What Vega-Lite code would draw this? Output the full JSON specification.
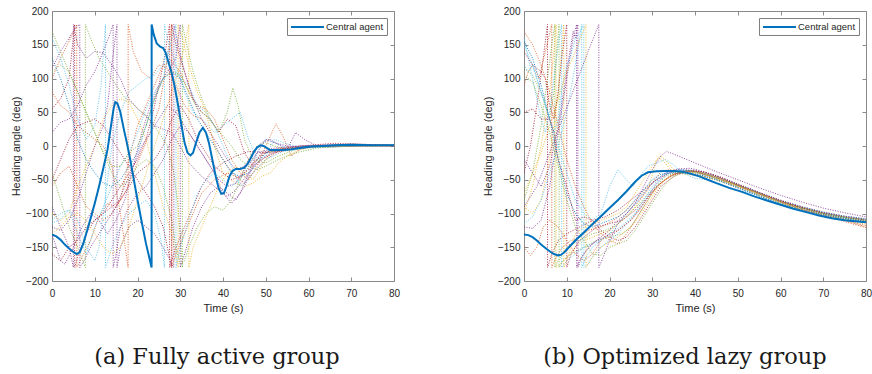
{
"$schema": "https://vega.github.io/schema/vega-lite/v6.json",
"background": "white",
"padding": {"left": 9, "top": 5, "right": 0, "bottom": 0},
"spacing": 80,
"config": {
 "view": {"stroke": "#8a8a8a", "strokeWidth": 1},
 "axis": {"grid": false, "domain": false, "tickColor": "#8a8a8a", "tickSize": -4, "labelFont": "Liberation Sans", "labelFontSize": 10, "labelColor": "#262626", "titleFont": "Liberation Sans", "titleFontSize": 11, "titleFontWeight": "normal", "titleColor": "#262626", "labelOverlap": false},
 "legend": {"orient": "top-right", "offset": 7, "title": null, "symbolType": "M-1,0H5.6", "symbolSize": 100, "symbolStrokeWidth": 2, "labelFontSize": 9.5, "labelFont": "Liberation Sans", "labelColor": "#262626", "strokeColor": "#7f7f7f", "fillColor": "white", "padding": 3, "labelOffset": 24},
 "title": {"orient": "bottom", "font": "DejaVu Serif", "fontSize": 22.5, "fontWeight": "normal", "color": "#1a1a1a", "offset": 33, "anchor": "middle"}
},
"resolve": {"scale": {"color": "independent", "stroke": "independent"}, "legend": {"stroke": "independent"}},
"datasets": {
"centralA": [
{"t":0,"v":-131},{"t":1,"v":-134},{"t":2,"v":-139},{"t":3,"v":-146},{"t":4,"v":-152},{"t":5,"v":-157},{"t":5.8,"v":-160},{"t":6.5,"v":-157},{"t":7.3,"v":-145},{"t":8,"v":-130},{"t":9,"v":-108},{"t":10,"v":-85},{"t":11,"v":-60},{"t":12,"v":-33},{"t":13,"v":-5},{"t":13.8,"v":30},{"t":14.4,"v":55},{"t":14.8,"v":65},{"t":15.3,"v":63},{"t":16,"v":50},{"t":16.8,"v":25},{"t":17.5,"v":5},{"t":18.3,"v":-20},{"t":19,"v":-45},{"t":20,"v":-80},{"t":21,"v":-113},{"t":22,"v":-145},{"t":23.3,"v":-180},{"t":23.31,"v":180},{"t":23.8,"v":165},{"t":24.5,"v":152},{"t":25.3,"v":147},{"t":26,"v":145},{"t":26.6,"v":138},{"t":27.2,"v":125},{"t":28,"v":108},{"t":28.7,"v":88},{"t":29.5,"v":60},{"t":30.3,"v":30},{"t":31,"v":5},{"t":31.7,"v":-10},{"t":32.4,"v":-14},{"t":33,"v":-10},{"t":33.7,"v":5},{"t":34.5,"v":20},{"t":35.3,"v":27},{"t":36,"v":20},{"t":36.7,"v":5},{"t":37.5,"v":-20},{"t":38.3,"v":-45},{"t":39,"v":-63},{"t":39.6,"v":-71},{"t":40.2,"v":-70},{"t":40.8,"v":-60},{"t":41.5,"v":-45},{"t":42.2,"v":-37},{"t":43,"v":-34},{"t":44,"v":-34},{"t":45,"v":-32},{"t":45.8,"v":-26},{"t":46.5,"v":-18},{"t":47.3,"v":-8},{"t":48,"v":-2},{"t":48.8,"v":1},{"t":49.5,"v":0},{"t":50.3,"v":-3},{"t":51,"v":-6},{"t":52.5,"v":-6},{"t":54,"v":-6},{"t":56,"v":-5},{"t":58,"v":-3},{"t":60,"v":-1},{"t":63,"v":0},{"t":66,"v":1},{"t":70,"v":2},{"t":75,"v":1},{"t":80,"v":1}
],
"centralB": [
{"t":0,"v":-131},{"t":1,"v":-132},{"t":2,"v":-135},{"t":3,"v":-140},{"t":4,"v":-146},{"t":5,"v":-151},{"t":6,"v":-156},{"t":7,"v":-160},{"t":8,"v":-162},{"t":8.7,"v":-161},{"t":9.5,"v":-157},{"t":10.5,"v":-150},{"t":12,"v":-140},{"t":14,"v":-128},{"t":16,"v":-116},{"t":18,"v":-104},{"t":20,"v":-92},{"t":22,"v":-80},{"t":24,"v":-67},{"t":26,"v":-53},{"t":27.5,"v":-44},{"t":29,"v":-39},{"t":31,"v":-37.5},{"t":33,"v":-37},{"t":35,"v":-37},{"t":37,"v":-38},{"t":39,"v":-41},{"t":41,"v":-45},{"t":43,"v":-50},{"t":45,"v":-55},{"t":48,"v":-62},{"t":51,"v":-68},{"t":54,"v":-75},{"t":57,"v":-81},{"t":60,"v":-87},{"t":63,"v":-93},{"t":66,"v":-98},{"t":69,"v":-103},{"t":72,"v":-107},{"t":75,"v":-110},{"t":78,"v":-112},{"t":80,"v":-113}
],
"agentsA": [
{"k":"a1","t":0,"v":-90},{"k":"a1","t":2,"v":-120},{"k":"a1","t":4,"v":-150},{"k":"a1","t":5,"v":-180},{"k":"a1","t":5.01,"v":180},{"k":"a1","t":6,"v":150},{"k":"a1","t":8,"v":130},{"k":"a1","t":10,"v":140},{"k":"a1","t":12,"v":138},{"k":"a1","t":14,"v":120},{"k":"a1","t":16,"v":100},{"k":"a1","t":18,"v":70},{"k":"a1","t":20,"v":55},{"k":"a1","t":22,"v":45},{"k":"a1","t":24,"v":30},{"k":"a1","t":26,"v":25},{"k":"a1","t":28,"v":20},{"k":"a1","t":30,"v":0},{"k":"a1","t":32,"v":-25},{"k":"a1","t":35,"v":-45},{"k":"a1","t":38,"v":-60},{"k":"a1","t":41,"v":-75},{"k":"a1","t":43,"v":-65},{"k":"a1","t":46,"v":-40},{"k":"a1","t":50,"v":-15},{"k":"a1","t":54,"v":-5},{"k":"a1","t":58,"v":0},{"k":"a1","t":65,"v":2},{"k":"a1","t":80,"v":1},
{"k":"a2","t":0,"v":55},{"k":"a2","t":2,"v":70},{"k":"a2","t":4,"v":100},{"k":"a2","t":5.3,"v":180},{"k":"a2","t":5.31,"v":-180},{"k":"a2","t":6,"v":-165},{"k":"a2","t":8,"v":-130},{"k":"a2","t":10,"v":-110},{"k":"a2","t":12,"v":-100},{"k":"a2","t":14,"v":-80},{"k":"a2","t":16,"v":-60},{"k":"a2","t":18,"v":-40},{"k":"a2","t":20,"v":-20},{"k":"a2","t":22,"v":10},{"k":"a2","t":24,"v":60},{"k":"a2","t":26,"v":120},{"k":"a2","t":27.5,"v":180},{"k":"a2","t":27.51,"v":-180},{"k":"a2","t":29,"v":-150},{"k":"a2","t":31,"v":-120},{"k":"a2","t":33,"v":-90},{"k":"a2","t":35,"v":-60},{"k":"a2","t":37,"v":-40},{"k":"a2","t":40,"v":-25},{"k":"a2","t":43,"v":-15},{"k":"a2","t":46,"v":-8},{"k":"a2","t":50,"v":-10},{"k":"a2","t":55,"v":-6},{"k":"a2","t":60,"v":-1},{"k":"a2","t":70,"v":3},{"k":"a2","t":80,"v":1},
{"k":"a3","t":0,"v":100},{"k":"a3","t":2,"v":130},{"k":"a3","t":4,"v":155},{"k":"a3","t":5.8,"v":180},{"k":"a3","t":5.81,"v":-180},{"k":"a3","t":7,"v":-165},{"k":"a3","t":9,"v":-140},{"k":"a3","t":11,"v":-105},{"k":"a3","t":13,"v":-85},{"k":"a3","t":15,"v":-90},{"k":"a3","t":17,"v":-70},{"k":"a3","t":19,"v":-40},{"k":"a3","t":21,"v":-10},{"k":"a3","t":23,"v":20},{"k":"a3","t":25,"v":55},{"k":"a3","t":26.5,"v":110},{"k":"a3","t":28,"v":180},{"k":"a3","t":28.01,"v":-180},{"k":"a3","t":29,"v":-160},{"k":"a3","t":31,"v":-130},{"k":"a3","t":33,"v":-100},{"k":"a3","t":35,"v":-70},{"k":"a3","t":38,"v":-50},{"k":"a3","t":41,"v":-40},{"k":"a3","t":44,"v":-48},{"k":"a3","t":46,"v":-32},{"k":"a3","t":49,"v":-12},{"k":"a3","t":52,"v":-5},{"k":"a3","t":56,"v":-2},{"k":"a3","t":62,"v":0},{"k":"a3","t":80,"v":1},
{"k":"a4","t":0,"v":-40},{"k":"a4","t":2,"v":-80},{"k":"a4","t":4,"v":-120},{"k":"a4","t":6,"v":-150},{"k":"a4","t":7.8,"v":-180},{"k":"a4","t":7.81,"v":180},{"k":"a4","t":9,"v":160},{"k":"a4","t":11,"v":130},{"k":"a4","t":13,"v":110},{"k":"a4","t":15,"v":90},{"k":"a4","t":17,"v":72},{"k":"a4","t":19,"v":62},{"k":"a4","t":21,"v":50},{"k":"a4","t":23,"v":38},{"k":"a4","t":25,"v":20},{"k":"a4","t":27,"v":0},{"k":"a4","t":28.5,"v":-40},{"k":"a4","t":29.5,"v":-90},{"k":"a4","t":30.5,"v":-180},{"k":"a4","t":30.51,"v":180},{"k":"a4","t":31.5,"v":150},{"k":"a4","t":33,"v":110},{"k":"a4","t":35,"v":70},{"k":"a4","t":37,"v":40},{"k":"a4","t":39,"v":20},{"k":"a4","t":41,"v":50},{"k":"a4","t":42.3,"v":86},{"k":"a4","t":43.5,"v":60},{"k":"a4","t":45,"v":10},{"k":"a4","t":47,"v":-20},{"k":"a4","t":50,"v":-25},{"k":"a4","t":53,"v":-15},{"k":"a4","t":57,"v":-5},{"k":"a4","t":62,"v":0},{"k":"a4","t":80,"v":2},
{"k":"a5","t":0,"v":160},{"k":"a5","t":2,"v":130},{"k":"a5","t":4,"v":90},{"k":"a5","t":6,"v":40},{"k":"a5","t":8,"v":10},{"k":"a5","t":10,"v":30},{"k":"a5","t":11.5,"v":90},{"k":"a5","t":12.5,"v":180},{"k":"a5","t":12.51,"v":-180},{"k":"a5","t":14,"v":-150},{"k":"a5","t":16,"v":-120},{"k":"a5","t":18,"v":-100},{"k":"a5","t":20,"v":-90},{"k":"a5","t":22,"v":-80},{"k":"a5","t":24,"v":-100},{"k":"a5","t":25.5,"v":-140},{"k":"a5","t":26.3,"v":-180},{"k":"a5","t":26.31,"v":180},{"k":"a5","t":27,"v":160},{"k":"a5","t":29,"v":120},{"k":"a5","t":31,"v":80},{"k":"a5","t":33,"v":50},{"k":"a5","t":35,"v":40},{"k":"a5","t":38,"v":20},{"k":"a5","t":41,"v":35},{"k":"a5","t":44,"v":50},{"k":"a5","t":46,"v":10},{"k":"a5","t":48,"v":-20},{"k":"a5","t":50,"v":-15},{"k":"a5","t":52,"v":10},{"k":"a5","t":54,"v":5},{"k":"a5","t":58,"v":-2},{"k":"a5","t":65,"v":0},{"k":"a5","t":80,"v":1},
{"k":"a6","t":0,"v":-100},{"k":"a6","t":2,"v":-110},{"k":"a6","t":4,"v":-100},{"k":"a6","t":6,"v":-60},{"k":"a6","t":8,"v":-30},{"k":"a6","t":10,"v":0},{"k":"a6","t":12,"v":40},{"k":"a6","t":14,"v":60},{"k":"a6","t":16,"v":70},{"k":"a6","t":18,"v":65},{"k":"a6","t":20,"v":40},{"k":"a6","t":22,"v":10},{"k":"a6","t":24,"v":-40},{"k":"a6","t":26,"v":-90},{"k":"a6","t":28,"v":-130},{"k":"a6","t":29.5,"v":-180},{"k":"a6","t":29.51,"v":180},{"k":"a6","t":30.5,"v":160},{"k":"a6","t":32,"v":120},{"k":"a6","t":34,"v":80},{"k":"a6","t":36,"v":50},{"k":"a6","t":38,"v":0},{"k":"a6","t":40,"v":-40},{"k":"a6","t":43,"v":-55},{"k":"a6","t":45,"v":-60},{"k":"a6","t":47,"v":-55},{"k":"a6","t":49,"v":-45},{"k":"a6","t":51,"v":-40},{"k":"a6","t":53,"v":-25},{"k":"a6","t":55,"v":-15},{"k":"a6","t":58,"v":-5},{"k":"a6","t":62,"v":0},{"k":"a6","t":70,"v":2},{"k":"a6","t":80,"v":0},
{"k":"a7","t":0,"v":-60},{"k":"a7","t":2,"v":-40},{"k":"a7","t":4,"v":-30},{"k":"a7","t":6,"v":-60},{"k":"a7","t":8,"v":-90},{"k":"a7","t":10,"v":-100},{"k":"a7","t":12,"v":-110},{"k":"a7","t":14,"v":-100},{"k":"a7","t":16,"v":-80},{"k":"a7","t":18,"v":-20},{"k":"a7","t":20,"v":30},{"k":"a7","t":22,"v":60},{"k":"a7","t":24,"v":90},{"k":"a7","t":26,"v":120},{"k":"a7","t":28,"v":125},{"k":"a7","t":30,"v":110},{"k":"a7","t":32,"v":80},{"k":"a7","t":34,"v":60},{"k":"a7","t":36,"v":55},{"k":"a7","t":38,"v":40},{"k":"a7","t":40,"v":10},{"k":"a7","t":42,"v":-20},{"k":"a7","t":44,"v":-40},{"k":"a7","t":46,"v":-50},{"k":"a7","t":48,"v":-30},{"k":"a7","t":50,"v":0},{"k":"a7","t":52.4,"v":33},{"k":"a7","t":54,"v":15},{"k":"a7","t":56,"v":-15},{"k":"a7","t":58,"v":-5},{"k":"a7","t":62,"v":0},{"k":"a7","t":70,"v":2},{"k":"a7","t":80,"v":1},
{"k":"a8","t":0,"v":20},{"k":"a8","t":2,"v":35},{"k":"a8","t":4,"v":40},{"k":"a8","t":6,"v":60},{"k":"a8","t":8,"v":90},{"k":"a8","t":10,"v":110},{"k":"a8","t":12,"v":140},{"k":"a8","t":13.5,"v":165},{"k":"a8","t":14.3,"v":180},{"k":"a8","t":14.31,"v":-180},{"k":"a8","t":15,"v":-160},{"k":"a8","t":16,"v":-120},{"k":"a8","t":18,"v":-90},{"k":"a8","t":20,"v":-70},{"k":"a8","t":22,"v":-60},{"k":"a8","t":24,"v":-40},{"k":"a8","t":26,"v":-20},{"k":"a8","t":28,"v":10},{"k":"a8","t":30,"v":30},{"k":"a8","t":32,"v":20},{"k":"a8","t":34,"v":0},{"k":"a8","t":36,"v":-20},{"k":"a8","t":38,"v":-40},{"k":"a8","t":40,"v":-70},{"k":"a8","t":42,"v":-85},{"k":"a8","t":44,"v":-70},{"k":"a8","t":46,"v":-40},{"k":"a8","t":48,"v":-10},{"k":"a8","t":50,"v":10},{"k":"a8","t":52,"v":5},{"k":"a8","t":55,"v":0},{"k":"a8","t":60,"v":-2},{"k":"a8","t":80,"v":1},
{"k":"a9","t":0,"v":-120},{"k":"a9","t":2,"v":-125},{"k":"a9","t":4,"v":-110},{"k":"a9","t":6,"v":-80},{"k":"a9","t":8,"v":-40},{"k":"a9","t":10,"v":0},{"k":"a9","t":12,"v":30},{"k":"a9","t":13,"v":60},{"k":"a9","t":14,"v":120},{"k":"a9","t":15.2,"v":180},{"k":"a9","t":15.21,"v":-180},{"k":"a9","t":16,"v":-150},{"k":"a9","t":18,"v":-120},{"k":"a9","t":20,"v":-110},{"k":"a9","t":22,"v":-120},{"k":"a9","t":24,"v":-130},{"k":"a9","t":26,"v":-150},{"k":"a9","t":28.5,"v":-180},{"k":"a9","t":28.51,"v":180},{"k":"a9","t":29.5,"v":150},{"k":"a9","t":31,"v":110},{"k":"a9","t":33,"v":70},{"k":"a9","t":35,"v":40},{"k":"a9","t":37,"v":20},{"k":"a9","t":39,"v":0},{"k":"a9","t":41,"v":-20},{"k":"a9","t":43,"v":-35},{"k":"a9","t":45,"v":-30},{"k":"a9","t":47,"v":-10},{"k":"a9","t":49,"v":5},{"k":"a9","t":51,"v":10},{"k":"a9","t":53,"v":2},{"k":"a9","t":55,"v":-5},{"k":"a9","t":57,"v":20},{"k":"a9","t":59,"v":10},{"k":"a9","t":62,"v":0},{"k":"a9","t":70,"v":1},{"k":"a9","t":80,"v":0},
{"k":"a10","t":0,"v":80},{"k":"a10","t":2,"v":60},{"k":"a10","t":4,"v":50},{"k":"a10","t":6,"v":30},{"k":"a10","t":8,"v":20},{"k":"a10","t":10,"v":10},{"k":"a10","t":12,"v":0},{"k":"a10","t":14,"v":-30},{"k":"a10","t":16,"v":-100},{"k":"a10","t":17.8,"v":-180},{"k":"a10","t":17.81,"v":180},{"k":"a10","t":19,"v":140},{"k":"a10","t":21,"v":110},{"k":"a10","t":23,"v":100},{"k":"a10","t":25,"v":120},{"k":"a10","t":27,"v":115},{"k":"a10","t":29,"v":90},{"k":"a10","t":31,"v":60},{"k":"a10","t":33,"v":45},{"k":"a10","t":35,"v":40},{"k":"a10","t":37,"v":20},{"k":"a10","t":39,"v":-10},{"k":"a10","t":41,"v":-30},{"k":"a10","t":43,"v":-45},{"k":"a10","t":45,"v":-55},{"k":"a10","t":47,"v":-40},{"k":"a10","t":50,"v":-20},{"k":"a10","t":53,"v":-8},{"k":"a10","t":57,"v":-2},{"k":"a10","t":62,"v":0},{"k":"a10","t":80,"v":0},
{"k":"a11","t":0,"v":-110},{"k":"a11","t":2,"v":-100},{"k":"a11","t":4,"v":-95},{"k":"a11","t":6,"v":-130},{"k":"a11","t":8,"v":-160},{"k":"a11","t":9,"v":-140},{"k":"a11","t":10,"v":-120},{"k":"a11","t":12,"v":-90},{"k":"a11","t":14,"v":-60},{"k":"a11","t":16,"v":-30},{"k":"a11","t":18,"v":-10},{"k":"a11","t":20,"v":20},{"k":"a11","t":22,"v":55},{"k":"a11","t":24,"v":80},{"k":"a11","t":26,"v":100},{"k":"a11","t":27,"v":130},{"k":"a11","t":28,"v":160},{"k":"a11","t":29,"v":180},{"k":"a11","t":29.01,"v":-180},{"k":"a11","t":30,"v":-150},{"k":"a11","t":32,"v":-110},{"k":"a11","t":34,"v":-70},{"k":"a11","t":36,"v":-50},{"k":"a11","t":38,"v":-40},{"k":"a11","t":40,"v":-50},{"k":"a11","t":42,"v":-60},{"k":"a11","t":44,"v":-50},{"k":"a11","t":46,"v":-30},{"k":"a11","t":48,"v":-10},{"k":"a11","t":50,"v":10},{"k":"a11","t":52,"v":5},{"k":"a11","t":55,"v":-3},{"k":"a11","t":60,"v":0},{"k":"a11","t":80,"v":1},
{"k":"a12","t":0,"v":110},{"k":"a12","t":2,"v":120},{"k":"a12","t":4,"v":110},{"k":"a12","t":6,"v":80},{"k":"a12","t":8,"v":50},{"k":"a12","t":10,"v":20},{"k":"a12","t":12,"v":-10},{"k":"a12","t":14,"v":-40},{"k":"a12","t":16,"v":-60},{"k":"a12","t":18,"v":-50},{"k":"a12","t":20,"v":-30},{"k":"a12","t":22,"v":-20},{"k":"a12","t":24,"v":-30},{"k":"a12","t":26,"v":-60},{"k":"a12","t":28,"v":-110},{"k":"a12","t":29,"v":-150},{"k":"a12","t":30,"v":-175},{"k":"a12","t":31,"v":-170},{"k":"a12","t":32,"v":-150},{"k":"a12","t":34,"v":-120},{"k":"a12","t":36,"v":-100},{"k":"a12","t":38,"v":-90},{"k":"a12","t":40,"v":-95},{"k":"a12","t":42,"v":-80},{"k":"a12","t":44,"v":-50},{"k":"a12","t":46,"v":-20},{"k":"a12","t":48,"v":0},{"k":"a12","t":50,"v":5},{"k":"a12","t":52,"v":0},{"k":"a12","t":55,"v":-5},{"k":"a12","t":60,"v":-2},{"k":"a12","t":80,"v":1},
{"k":"a13","t":0,"v":-160},{"k":"a13","t":2,"v":-170},{"k":"a13","t":4,"v":-150},{"k":"a13","t":6,"v":-140},{"k":"a13","t":8,"v":-120},{"k":"a13","t":10,"v":-110},{"k":"a13","t":12,"v":-100},{"k":"a13","t":14,"v":-90},{"k":"a13","t":16,"v":-80},{"k":"a13","t":18,"v":-60},{"k":"a13","t":20,"v":-40},{"k":"a13","t":22,"v":-30},{"k":"a13","t":24,"v":-20},{"k":"a13","t":26,"v":0},{"k":"a13","t":28,"v":40},{"k":"a13","t":30,"v":60},{"k":"a13","t":32,"v":40},{"k":"a13","t":34,"v":10},{"k":"a13","t":36,"v":-10},{"k":"a13","t":38,"v":-30},{"k":"a13","t":40,"v":-40},{"k":"a13","t":42,"v":-50},{"k":"a13","t":44,"v":-45},{"k":"a13","t":46,"v":-35},{"k":"a13","t":48,"v":-20},{"k":"a13","t":50,"v":-10},{"k":"a13","t":53,"v":-5},{"k":"a13","t":58,"v":0},{"k":"a13","t":66,"v":4},{"k":"a13","t":80,"v":1},
{"k":"a14","t":0,"v":-130},{"k":"a14","t":2,"v":-120},{"k":"a14","t":4,"v":-105},{"k":"a14","t":6,"v":-100},{"k":"a14","t":8,"v":-110},{"k":"a14","t":10,"v":-130},{"k":"a14","t":12,"v":-150},{"k":"a14","t":14,"v":-160},{"k":"a14","t":16,"v":-150},{"k":"a14","t":18,"v":-120},{"k":"a14","t":20,"v":-80},{"k":"a14","t":22,"v":-40},{"k":"a14","t":24,"v":0},{"k":"a14","t":26,"v":40},{"k":"a14","t":28,"v":80},{"k":"a14","t":30,"v":120},{"k":"a14","t":31,"v":150},{"k":"a14","t":32,"v":180},{"k":"a14","t":32.01,"v":-180},{"k":"a14","t":33,"v":-150},{"k":"a14","t":35,"v":-120},{"k":"a14","t":37,"v":-90},{"k":"a14","t":39,"v":-60},{"k":"a14","t":41,"v":-40},{"k":"a14","t":43,"v":-30},{"k":"a14","t":45,"v":-40},{"k":"a14","t":47,"v":-50},{"k":"a14","t":49,"v":-30},{"k":"a14","t":51,"v":-10},{"k":"a14","t":53,"v":-5},{"k":"a14","t":57,"v":-2},{"k":"a14","t":62,"v":0},{"k":"a14","t":80,"v":0},
{"k":"a15","t":0,"v":130},{"k":"a15","t":2,"v":100},{"k":"a15","t":4,"v":60},{"k":"a15","t":6,"v":10},{"k":"a15","t":8,"v":-20},{"k":"a15","t":10,"v":-40},{"k":"a15","t":12,"v":-55},{"k":"a15","t":14,"v":-60},{"k":"a15","t":16,"v":-50},{"k":"a15","t":18,"v":-30},{"k":"a15","t":20,"v":-10},{"k":"a15","t":22,"v":30},{"k":"a15","t":24,"v":70},{"k":"a15","t":26,"v":100},{"k":"a15","t":28,"v":110},{"k":"a15","t":30,"v":100},{"k":"a15","t":32,"v":70},{"k":"a15","t":34,"v":40},{"k":"a15","t":36,"v":20},{"k":"a15","t":38,"v":0},{"k":"a15","t":40,"v":-20},{"k":"a15","t":42,"v":-40},{"k":"a15","t":44,"v":-45},{"k":"a15","t":46,"v":-40},{"k":"a15","t":48,"v":-25},{"k":"a15","t":50,"v":-10},{"k":"a15","t":52,"v":-8},{"k":"a15","t":55,"v":-5},{"k":"a15","t":60,"v":0},{"k":"a15","t":70,"v":1},{"k":"a15","t":80,"v":1},
{"k":"a16","t":0,"v":-50},{"k":"a16","t":2,"v":-20},{"k":"a16","t":4,"v":10},{"k":"a16","t":6,"v":30},{"k":"a16","t":8,"v":35},{"k":"a16","t":10,"v":40},{"k":"a16","t":12,"v":30},{"k":"a16","t":14,"v":10},{"k":"a16","t":16,"v":-10},{"k":"a16","t":18,"v":-30},{"k":"a16","t":20,"v":-50},{"k":"a16","t":22,"v":-70},{"k":"a16","t":24,"v":-90},{"k":"a16","t":26,"v":-120},{"k":"a16","t":27,"v":-150},{"k":"a16","t":28,"v":-180},{"k":"a16","t":28.01,"v":180},{"k":"a16","t":29,"v":150},{"k":"a16","t":31,"v":110},{"k":"a16","t":33,"v":70},{"k":"a16","t":35,"v":50},{"k":"a16","t":37,"v":40},{"k":"a16","t":39,"v":20},{"k":"a16","t":41,"v":40},{"k":"a16","t":43,"v":30},{"k":"a16","t":45,"v":-10},{"k":"a16","t":47,"v":-30},{"k":"a16","t":49,"v":-20},{"k":"a16","t":52,"v":-10},{"k":"a16","t":56,"v":-5},{"k":"a16","t":62,"v":0},{"k":"a16","t":80,"v":1},
{"k":"a17","t":0,"v":-130},{"k":"a17","t":2,"v":-170},{"k":"a17","t":3,"v":-175},{"k":"a17","t":5,"v":-150},{"k":"a17","t":7,"v":-120},{"k":"a17","t":9,"v":-100},{"k":"a17","t":11,"v":-110},{"k":"a17","t":13,"v":-130},{"k":"a17","t":15,"v":-110},{"k":"a17","t":17,"v":-80},{"k":"a17","t":19,"v":-30},{"k":"a17","t":21,"v":20},{"k":"a17","t":23,"v":60},{"k":"a17","t":25,"v":90},{"k":"a17","t":27,"v":110},{"k":"a17","t":28,"v":120},{"k":"a17","t":29,"v":130},{"k":"a17","t":29.5,"v":160},{"k":"a17","t":30,"v":180},{"k":"a17","t":30.01,"v":-180},{"k":"a17","t":31,"v":-160},{"k":"a17","t":33,"v":-120},{"k":"a17","t":35,"v":-90},{"k":"a17","t":37,"v":-70},{"k":"a17","t":39,"v":-60},{"k":"a17","t":41,"v":-70},{"k":"a17","t":43,"v":-80},{"k":"a17","t":45,"v":-60},{"k":"a17","t":47,"v":-30},{"k":"a17","t":49,"v":-10},{"k":"a17","t":52,"v":-5},{"k":"a17","t":56,"v":-3},{"k":"a17","t":62,"v":0},{"k":"a17","t":80,"v":0},
{"k":"a18","t":0,"v":-115},{"k":"a18","t":2,"v":-108},{"k":"a18","t":4,"v":-95},{"k":"a18","t":6,"v":-110},{"k":"a18","t":8,"v":-150},{"k":"a18","t":10,"v":-170},{"k":"a18","t":11,"v":-150},{"k":"a18","t":12,"v":-100},{"k":"a18","t":13,"v":-50},{"k":"a18","t":14,"v":0},{"k":"a18","t":16,"v":50},{"k":"a18","t":18,"v":80},{"k":"a18","t":20,"v":90},{"k":"a18","t":22,"v":100},{"k":"a18","t":24,"v":105},{"k":"a18","t":26,"v":120},{"k":"a18","t":27,"v":140},{"k":"a18","t":28,"v":120},{"k":"a18","t":30,"v":100},{"k":"a18","t":32,"v":90},{"k":"a18","t":34,"v":60},{"k":"a18","t":36,"v":50},{"k":"a18","t":38,"v":30},{"k":"a18","t":40,"v":0},{"k":"a18","t":42,"v":-30},{"k":"a18","t":44,"v":-60},{"k":"a18","t":45,"v":-55},{"k":"a18","t":47,"v":-40},{"k":"a18","t":50,"v":-20},{"k":"a18","t":54,"v":-8},{"k":"a18","t":60,"v":-3},{"k":"a18","t":70,"v":0},{"k":"a18","t":80,"v":1},
{"k":"a19","t":0,"v":170},{"k":"a19","t":2,"v":140},{"k":"a19","t":4,"v":110},{"k":"a19","t":6,"v":80},{"k":"a19","t":8,"v":50},{"k":"a19","t":10,"v":20},{"k":"a19","t":12,"v":-10},{"k":"a19","t":14,"v":-30},{"k":"a19","t":16,"v":-30},{"k":"a19","t":18,"v":-10},{"k":"a19","t":20,"v":0},{"k":"a19","t":22,"v":30},{"k":"a19","t":24,"v":70},{"k":"a19","t":26,"v":100},{"k":"a19","t":28,"v":110},{"k":"a19","t":30,"v":105},{"k":"a19","t":32,"v":80},{"k":"a19","t":34,"v":55},{"k":"a19","t":36,"v":45},{"k":"a19","t":38,"v":30},{"k":"a19","t":40,"v":15},{"k":"a19","t":42,"v":0},{"k":"a19","t":44,"v":-20},{"k":"a19","t":46,"v":-30},{"k":"a19","t":48,"v":-35},{"k":"a19","t":50,"v":-30},{"k":"a19","t":53,"v":-20},{"k":"a19","t":57,"v":-10},{"k":"a19","t":62,"v":-3},{"k":"a19","t":70,"v":0},{"k":"a19","t":80,"v":1},
{"k":"a20","t":0,"v":115},{"k":"a20","t":2,"v":140},{"k":"a20","t":4,"v":160},{"k":"a20","t":5.5,"v":175},{"k":"a20","t":6.5,"v":180},{"k":"a20","t":6.51,"v":-180},{"k":"a20","t":7.5,"v":-170},{"k":"a20","t":9,"v":-150},{"k":"a20","t":11,"v":-130},{"k":"a20","t":13,"v":-110},{"k":"a20","t":15,"v":-90},{"k":"a20","t":17,"v":-60},{"k":"a20","t":19,"v":-30},{"k":"a20","t":21,"v":0},{"k":"a20","t":23,"v":20},{"k":"a20","t":25,"v":40},{"k":"a20","t":27,"v":60},{"k":"a20","t":29,"v":50},{"k":"a20","t":31,"v":30},{"k":"a20","t":33,"v":10},{"k":"a20","t":35,"v":-10},{"k":"a20","t":37,"v":-30},{"k":"a20","t":39,"v":-50},{"k":"a20","t":41,"v":-60},{"k":"a20","t":43,"v":-55},{"k":"a20","t":45,"v":-35},{"k":"a20","t":48,"v":-10},{"k":"a20","t":52,"v":-3},{"k":"a20","t":58,"v":0},{"k":"a20","t":80,"v":1}
],
"agentsB": [
{"k":"b1","t":0,"v":-40},{"k":"b1","t":1.5,"v":0},{"k":"b1","t":3,"v":60},{"k":"b1","t":4.5,"v":130},{"k":"b1","t":5.5,"v":180},{"k":"b1","t":5.51,"v":-180},{"k":"b1","t":6.5,"v":-160},{"k":"b1","t":8,"v":-140},{"k":"b1","t":10,"v":-130},{"k":"b1","t":13,"v":-120},{"k":"b1","t":16,"v":-110},{"k":"b1","t":19,"v":-105},{"k":"b1","t":22,"v":-95},{"k":"b1","t":25,"v":-80},{"k":"b1","t":28,"v":-65},{"k":"b1","t":31,"v":-50},{"k":"b1","t":34,"v":-40},{"k":"b1","t":37,"v":-36},{"k":"b1","t":40,"v":-38},{"k":"b1","t":45,"v":-48},{"k":"b1","t":50,"v":-60},{"k":"b1","t":55,"v":-72},{"k":"b1","t":60,"v":-83},{"k":"b1","t":65,"v":-92},{"k":"b1","t":70,"v":-100},{"k":"b1","t":75,"v":-106},{"k":"b1","t":80,"v":-110},
{"k":"b2","t":0,"v":90},{"k":"b2","t":1,"v":110},{"k":"b2","t":2,"v":120},{"k":"b2","t":3.5,"v":100},{"k":"b2","t":5,"v":140},{"k":"b2","t":6.5,"v":180},{"k":"b2","t":6.51,"v":-180},{"k":"b2","t":7.5,"v":-165},{"k":"b2","t":9,"v":-150},{"k":"b2","t":11,"v":-140},{"k":"b2","t":13,"v":-135},{"k":"b2","t":15,"v":-125},{"k":"b2","t":18,"v":-120},{"k":"b2","t":21,"v":-110},{"k":"b2","t":24,"v":-95},{"k":"b2","t":27,"v":-75},{"k":"b2","t":30,"v":-55},{"k":"b2","t":32,"v":-38},{"k":"b2","t":34,"v":-35},{"k":"b2","t":37,"v":-40},{"k":"b2","t":40,"v":-42},{"k":"b2","t":45,"v":-50},{"k":"b2","t":50,"v":-62},{"k":"b2","t":55,"v":-74},{"k":"b2","t":60,"v":-85},{"k":"b2","t":65,"v":-95},{"k":"b2","t":70,"v":-103},{"k":"b2","t":75,"v":-110},{"k":"b2","t":80,"v":-118},
{"k":"b3","t":0,"v":-80},{"k":"b3","t":2,"v":-40},{"k":"b3","t":4,"v":30},{"k":"b3","t":5.5,"v":100},{"k":"b3","t":6.5,"v":150},{"k":"b3","t":7.2,"v":180},{"k":"b3","t":7.21,"v":-180},{"k":"b3","t":8,"v":-170},{"k":"b3","t":10,"v":-150},{"k":"b3","t":13,"v":-140},{"k":"b3","t":16,"v":-130},{"k":"b3","t":19,"v":-125},{"k":"b3","t":21,"v":-120},{"k":"b3","t":24,"v":-105},{"k":"b3","t":27,"v":-85},{"k":"b3","t":30,"v":-65},{"k":"b3","t":33,"v":-50},{"k":"b3","t":36,"v":-40},{"k":"b3","t":39,"v":-38},{"k":"b3","t":42,"v":-42},{"k":"b3","t":46,"v":-50},{"k":"b3","t":50,"v":-58},{"k":"b3","t":55,"v":-70},{"k":"b3","t":60,"v":-82},{"k":"b3","t":65,"v":-92},{"k":"b3","t":70,"v":-100},{"k":"b3","t":75,"v":-106},{"k":"b3","t":80,"v":-110},
{"k":"b4","t":0,"v":-100},{"k":"b4","t":2,"v":-60},{"k":"b4","t":4,"v":0},{"k":"b4","t":6,"v":80},{"k":"b4","t":7,"v":140},{"k":"b4","t":7.5,"v":180},{"k":"b4","t":7.51,"v":-180},{"k":"b4","t":8.5,"v":-175},{"k":"b4","t":10,"v":-165},{"k":"b4","t":12,"v":-150},{"k":"b4","t":14,"v":-140},{"k":"b4","t":16,"v":-135},{"k":"b4","t":18,"v":-130},{"k":"b4","t":20,"v":-125},{"k":"b4","t":23,"v":-110},{"k":"b4","t":26,"v":-90},{"k":"b4","t":29,"v":-65},{"k":"b4","t":31,"v":-20},{"k":"b4","t":32,"v":-15},{"k":"b4","t":33,"v":-20},{"k":"b4","t":35,"v":-35},{"k":"b4","t":38,"v":-40},{"k":"b4","t":42,"v":-45},{"k":"b4","t":46,"v":-52},{"k":"b4","t":50,"v":-60},{"k":"b4","t":55,"v":-72},{"k":"b4","t":60,"v":-84},{"k":"b4","t":65,"v":-94},{"k":"b4","t":70,"v":-101},{"k":"b4","t":75,"v":-108},{"k":"b4","t":80,"v":-112},
{"k":"b5","t":0,"v":115},{"k":"b5","t":2,"v":105},{"k":"b5","t":4,"v":80},{"k":"b5","t":6,"v":40},{"k":"b5","t":7,"v":80},{"k":"b5","t":7.8,"v":150},{"k":"b5","t":8.2,"v":180},{"k":"b5","t":8.21,"v":-180},{"k":"b5","t":9,"v":-170},{"k":"b5","t":11,"v":-160},{"k":"b5","t":14,"v":-150},{"k":"b5","t":17,"v":-140},{"k":"b5","t":20,"v":-135},{"k":"b5","t":23,"v":-130},{"k":"b5","t":25,"v":-120},{"k":"b5","t":27,"v":-100},{"k":"b5","t":29,"v":-80},{"k":"b5","t":31,"v":-60},{"k":"b5","t":33,"v":-45},{"k":"b5","t":36,"v":-38},{"k":"b5","t":39,"v":-36},{"k":"b5","t":42,"v":-40},{"k":"b5","t":46,"v":-48},{"k":"b5","t":50,"v":-58},{"k":"b5","t":55,"v":-70},{"k":"b5","t":60,"v":-82},{"k":"b5","t":65,"v":-91},{"k":"b5","t":70,"v":-99},{"k":"b5","t":75,"v":-105},{"k":"b5","t":80,"v":-109},
{"k":"b6","t":0,"v":160},{"k":"b6","t":1,"v":130},{"k":"b6","t":2,"v":100},{"k":"b6","t":3,"v":70},{"k":"b6","t":4,"v":40},{"k":"b6","t":5,"v":20},{"k":"b6","t":6,"v":50},{"k":"b6","t":7,"v":100},{"k":"b6","t":8,"v":150},{"k":"b6","t":8.8,"v":180},{"k":"b6","t":8.81,"v":-180},{"k":"b6","t":10,"v":-170},{"k":"b6","t":12,"v":-160},{"k":"b6","t":14,"v":-150},{"k":"b6","t":16,"v":-145},{"k":"b6","t":18,"v":-140},{"k":"b6","t":20,"v":-130},{"k":"b6","t":22,"v":-115},{"k":"b6","t":24,"v":-100},{"k":"b6","t":26,"v":-85},{"k":"b6","t":28,"v":-70},{"k":"b6","t":30,"v":-55},{"k":"b6","t":33,"v":-40},{"k":"b6","t":36,"v":-35},{"k":"b6","t":40,"v":-40},{"k":"b6","t":45,"v":-50},{"k":"b6","t":50,"v":-62},{"k":"b6","t":55,"v":-74},{"k":"b6","t":60,"v":-86},{"k":"b6","t":65,"v":-95},{"k":"b6","t":70,"v":-103},{"k":"b6","t":75,"v":-109},{"k":"b6","t":80,"v":-113},
{"k":"b7","t":0,"v":-90},{"k":"b7","t":2,"v":-100},{"k":"b7","t":4,"v":-80},{"k":"b7","t":6,"v":-20},{"k":"b7","t":8,"v":80},{"k":"b7","t":9.3,"v":180},{"k":"b7","t":9.31,"v":-180},{"k":"b7","t":10,"v":-170},{"k":"b7","t":11,"v":-150},{"k":"b7","t":12,"v":-130},{"k":"b7","t":14,"v":-120},{"k":"b7","t":16,"v":-115},{"k":"b7","t":18,"v":-110},{"k":"b7","t":20,"v":-105},{"k":"b7","t":22,"v":-100},{"k":"b7","t":24,"v":-90},{"k":"b7","t":26,"v":-70},{"k":"b7","t":28,"v":-50},{"k":"b7","t":30,"v":-30},{"k":"b7","t":31.5,"v":-17},{"k":"b7","t":33,"v":-25},{"k":"b7","t":35,"v":-40},{"k":"b7","t":38,"v":-42},{"k":"b7","t":42,"v":-45},{"k":"b7","t":46,"v":-52},{"k":"b7","t":50,"v":-60},{"k":"b7","t":55,"v":-72},{"k":"b7","t":60,"v":-84},{"k":"b7","t":65,"v":-93},{"k":"b7","t":70,"v":-101},{"k":"b7","t":75,"v":-108},{"k":"b7","t":80,"v":-114},
{"k":"b8","t":0,"v":140},{"k":"b8","t":2,"v":120},{"k":"b8","t":4,"v":110},{"k":"b8","t":5,"v":100},{"k":"b8","t":6,"v":60},{"k":"b8","t":7,"v":40},{"k":"b8","t":8,"v":80},{"k":"b8","t":9,"v":140},{"k":"b8","t":10,"v":180},{"k":"b8","t":10.01,"v":-180},{"k":"b8","t":11,"v":-160},{"k":"b8","t":13,"v":-140},{"k":"b8","t":15,"v":-130},{"k":"b8","t":17,"v":-120},{"k":"b8","t":20,"v":-115},{"k":"b8","t":23,"v":-110},{"k":"b8","t":26,"v":-95},{"k":"b8","t":29,"v":-75},{"k":"b8","t":32,"v":-55},{"k":"b8","t":35,"v":-42},{"k":"b8","t":38,"v":-36},{"k":"b8","t":41,"v":-38},{"k":"b8","t":45,"v":-45},{"k":"b8","t":50,"v":-58},{"k":"b8","t":55,"v":-70},{"k":"b8","t":60,"v":-82},{"k":"b8","t":65,"v":-92},{"k":"b8","t":70,"v":-100},{"k":"b8","t":75,"v":-107},{"k":"b8","t":80,"v":-112},
{"k":"b9","t":0,"v":-120},{"k":"b9","t":2,"v":-122},{"k":"b9","t":4,"v":-110},{"k":"b9","t":6,"v":-60},{"k":"b9","t":8,"v":20},{"k":"b9","t":10,"v":100},{"k":"b9","t":11.5,"v":160},{"k":"b9","t":12.3,"v":180},{"k":"b9","t":12.31,"v":-180},{"k":"b9","t":13,"v":-170},{"k":"b9","t":14,"v":-160},{"k":"b9","t":16,"v":-145},{"k":"b9","t":18,"v":-135},{"k":"b9","t":20,"v":-125},{"k":"b9","t":22,"v":-110},{"k":"b9","t":24,"v":-100},{"k":"b9","t":27,"v":-80},{"k":"b9","t":30,"v":-55},{"k":"b9","t":33,"v":-40},{"k":"b9","t":36,"v":-34},{"k":"b9","t":39,"v":-33},{"k":"b9","t":42,"v":-38},{"k":"b9","t":46,"v":-47},{"k":"b9","t":50,"v":-57},{"k":"b9","t":55,"v":-69},{"k":"b9","t":60,"v":-81},{"k":"b9","t":65,"v":-90},{"k":"b9","t":70,"v":-98},{"k":"b9","t":75,"v":-104},{"k":"b9","t":80,"v":-108},
{"k":"b10","t":0,"v":-20},{"k":"b10","t":2,"v":-40},{"k":"b10","t":4,"v":-60},{"k":"b10","t":6,"v":-30},{"k":"b10","t":8,"v":30},{"k":"b10","t":10,"v":110},{"k":"b10","t":11.5,"v":170},{"k":"b10","t":12,"v":160},{"k":"b10","t":12.6,"v":180},{"k":"b10","t":12.61,"v":-180},{"k":"b10","t":13.5,"v":-165},{"k":"b10","t":15,"v":-150},{"k":"b10","t":17,"v":-140},{"k":"b10","t":19,"v":-135},{"k":"b10","t":21,"v":-130},{"k":"b10","t":23,"v":-120},{"k":"b10","t":25,"v":-110},{"k":"b10","t":27,"v":-95},{"k":"b10","t":29,"v":-75},{"k":"b10","t":31,"v":-55},{"k":"b10","t":33,"v":-42},{"k":"b10","t":36,"v":-35},{"k":"b10","t":40,"v":-36},{"k":"b10","t":44,"v":-42},{"k":"b10","t":48,"v":-51},{"k":"b10","t":52,"v":-61},{"k":"b10","t":56,"v":-71},{"k":"b10","t":60,"v":-80},{"k":"b10","t":65,"v":-90},{"k":"b10","t":70,"v":-98},{"k":"b10","t":75,"v":-104},{"k":"b10","t":80,"v":-108},
{"k":"b11","t":0,"v":150},{"k":"b11","t":2,"v":120},{"k":"b11","t":4,"v":80},{"k":"b11","t":6,"v":40},{"k":"b11","t":8,"v":0},{"k":"b11","t":10,"v":-40},{"k":"b11","t":12,"v":-80},{"k":"b11","t":14,"v":-100},{"k":"b11","t":16,"v":-110},{"k":"b11","t":18,"v":-100},{"k":"b11","t":20,"v":-60},{"k":"b11","t":22,"v":-35},{"k":"b11","t":24,"v":-50},{"k":"b11","t":25.5,"v":-60},{"k":"b11","t":27,"v":-45},{"k":"b11","t":29,"v":-30},{"k":"b11","t":31,"v":-25},{"k":"b11","t":33,"v":-20},{"k":"b11","t":35,"v":-28},{"k":"b11","t":37,"v":-40},{"k":"b11","t":40,"v":-48},{"k":"b11","t":43,"v":-50},{"k":"b11","t":46,"v":-58},{"k":"b11","t":49,"v":-65},{"k":"b11","t":52,"v":-68},{"k":"b11","t":55,"v":-72},{"k":"b11","t":60,"v":-84},{"k":"b11","t":65,"v":-94},{"k":"b11","t":70,"v":-101},{"k":"b11","t":75,"v":-107},{"k":"b11","t":80,"v":-112},
{"k":"b12","t":0,"v":-115},{"k":"b12","t":2,"v":-105},{"k":"b12","t":4,"v":-80},{"k":"b12","t":6,"v":-40},{"k":"b12","t":8,"v":0},{"k":"b12","t":10,"v":50},{"k":"b12","t":12,"v":120},{"k":"b12","t":13,"v":160},{"k":"b12","t":13.5,"v":180},{"k":"b12","t":13.51,"v":-180},{"k":"b12","t":14.5,"v":-165},{"k":"b12","t":16,"v":-150},{"k":"b12","t":18,"v":-140},{"k":"b12","t":20,"v":-130},{"k":"b12","t":22,"v":-122},{"k":"b12","t":24,"v":-112},{"k":"b12","t":26,"v":-100},{"k":"b12","t":28,"v":-85},{"k":"b12","t":30,"v":-65},{"k":"b12","t":32,"v":-50},{"k":"b12","t":34,"v":-40},{"k":"b12","t":37,"v":-36},{"k":"b12","t":40,"v":-38},{"k":"b12","t":45,"v":-46},{"k":"b12","t":50,"v":-57},{"k":"b12","t":55,"v":-69},{"k":"b12","t":60,"v":-81},{"k":"b12","t":65,"v":-90},{"k":"b12","t":70,"v":-98},{"k":"b12","t":75,"v":-104},{"k":"b12","t":80,"v":-108},
{"k":"b13","t":0,"v":120},{"k":"b13","t":1,"v":110},{"k":"b13","t":2,"v":120},{"k":"b13","t":3,"v":100},{"k":"b13","t":5,"v":60},{"k":"b13","t":7,"v":20},{"k":"b13","t":8,"v":40},{"k":"b13","t":9,"v":90},{"k":"b13","t":10,"v":120},{"k":"b13","t":11,"v":135},{"k":"b13","t":12,"v":160},{"k":"b13","t":13,"v":168},{"k":"b13","t":14,"v":180},{"k":"b13","t":14.01,"v":-180},{"k":"b13","t":15,"v":-175},{"k":"b13","t":16,"v":-165},{"k":"b13","t":18,"v":-150},{"k":"b13","t":20,"v":-140},{"k":"b13","t":22,"v":-130},{"k":"b13","t":24,"v":-115},{"k":"b13","t":26,"v":-100},{"k":"b13","t":28,"v":-80},{"k":"b13","t":30,"v":-60},{"k":"b13","t":32,"v":-45},{"k":"b13","t":34,"v":-38},{"k":"b13","t":37,"v":-35},{"k":"b13","t":40,"v":-38},{"k":"b13","t":45,"v":-48},{"k":"b13","t":50,"v":-60},{"k":"b13","t":55,"v":-72},{"k":"b13","t":60,"v":-84},{"k":"b13","t":65,"v":-93},{"k":"b13","t":70,"v":-100},{"k":"b13","t":75,"v":-106},{"k":"b13","t":80,"v":-110},
{"k":"b14","t":0,"v":-70},{"k":"b14","t":2,"v":-40},{"k":"b14","t":4,"v":-10},{"k":"b14","t":6,"v":30},{"k":"b14","t":8,"v":70},{"k":"b14","t":10,"v":110},{"k":"b14","t":12,"v":140},{"k":"b14","t":13.5,"v":165},{"k":"b14","t":14.5,"v":180},{"k":"b14","t":14.51,"v":-180},{"k":"b14","t":15.5,"v":-170},{"k":"b14","t":17,"v":-155},{"k":"b14","t":19,"v":-145},{"k":"b14","t":21,"v":-140},{"k":"b14","t":23,"v":-130},{"k":"b14","t":25,"v":-120},{"k":"b14","t":27,"v":-105},{"k":"b14","t":29,"v":-85},{"k":"b14","t":31,"v":-65},{"k":"b14","t":33,"v":-50},{"k":"b14","t":35,"v":-42},{"k":"b14","t":38,"v":-38},{"k":"b14","t":42,"v":-42},{"k":"b14","t":46,"v":-50},{"k":"b14","t":50,"v":-60},{"k":"b14","t":55,"v":-72},{"k":"b14","t":60,"v":-84},{"k":"b14","t":65,"v":-94},{"k":"b14","t":70,"v":-102},{"k":"b14","t":75,"v":-109},{"k":"b14","t":80,"v":-116},
{"k":"b15","t":0,"v":-90},{"k":"b15","t":3,"v":-60},{"k":"b15","t":6,"v":-10},{"k":"b15","t":9,"v":40},{"k":"b15","t":12,"v":90},{"k":"b15","t":15,"v":140},{"k":"b15","t":17.5,"v":180},{"k":"b15","t":17.51,"v":-180},{"k":"b15","t":18.5,"v":-165},{"k":"b15","t":20,"v":-140},{"k":"b15","t":22,"v":-115},{"k":"b15","t":24,"v":-100},{"k":"b15","t":26,"v":-85},{"k":"b15","t":28,"v":-60},{"k":"b15","t":30,"v":-35},{"k":"b15","t":32,"v":-15},{"k":"b15","t":33.3,"v":-8},{"k":"b15","t":35,"v":-12},{"k":"b15","t":40,"v":-25},{"k":"b15","t":45,"v":-38},{"k":"b15","t":50,"v":-50},{"k":"b15","t":55,"v":-62},{"k":"b15","t":60,"v":-73},{"k":"b15","t":65,"v":-83},{"k":"b15","t":70,"v":-92},{"k":"b15","t":75,"v":-99},{"k":"b15","t":80,"v":-105},
{"k":"b16","t":0,"v":170},{"k":"b16","t":2,"v":150},{"k":"b16","t":4,"v":120},{"k":"b16","t":6,"v":80},{"k":"b16","t":8,"v":30},{"k":"b16","t":10,"v":-20},{"k":"b16","t":12,"v":-60},{"k":"b16","t":14,"v":-90},{"k":"b16","t":16,"v":-115},{"k":"b16","t":18,"v":-130},{"k":"b16","t":20,"v":-140},{"k":"b16","t":22,"v":-145},{"k":"b16","t":24,"v":-130},{"k":"b16","t":26,"v":-110},{"k":"b16","t":28,"v":-90},{"k":"b16","t":30,"v":-70},{"k":"b16","t":32,"v":-55},{"k":"b16","t":34,"v":-45},{"k":"b16","t":37,"v":-38},{"k":"b16","t":40,"v":-38},{"k":"b16","t":45,"v":-46},{"k":"b16","t":50,"v":-58},{"k":"b16","t":55,"v":-70},{"k":"b16","t":60,"v":-82},{"k":"b16","t":65,"v":-92},{"k":"b16","t":70,"v":-101},{"k":"b16","t":75,"v":-110},{"k":"b16","t":80,"v":-120},
{"k":"b17","t":0,"v":50},{"k":"b17","t":2,"v":55},{"k":"b17","t":4,"v":40},{"k":"b17","t":6,"v":40},{"k":"b17","t":7,"v":20},{"k":"b17","t":8,"v":-20},{"k":"b17","t":10,"v":-60},{"k":"b17","t":12,"v":-110},{"k":"b17","t":14,"v":-105},{"k":"b17","t":16,"v":-110},{"k":"b17","t":18,"v":-125},{"k":"b17","t":20,"v":-135},{"k":"b17","t":22,"v":-140},{"k":"b17","t":24,"v":-135},{"k":"b17","t":26,"v":-120},{"k":"b17","t":28,"v":-100},{"k":"b17","t":30,"v":-80},{"k":"b17","t":32,"v":-60},{"k":"b17","t":35,"v":-45},{"k":"b17","t":38,"v":-37},{"k":"b17","t":42,"v":-38},{"k":"b17","t":46,"v":-46},{"k":"b17","t":50,"v":-57},{"k":"b17","t":55,"v":-69},{"k":"b17","t":60,"v":-81},{"k":"b17","t":65,"v":-91},{"k":"b17","t":70,"v":-99},{"k":"b17","t":75,"v":-105},{"k":"b17","t":80,"v":-110},
{"k":"b18","t":0,"v":105},{"k":"b18","t":2,"v":95},{"k":"b18","t":4,"v":60},{"k":"b18","t":6,"v":20},{"k":"b18","t":8,"v":-30},{"k":"b18","t":10,"v":-80},{"k":"b18","t":12,"v":-120},{"k":"b18","t":14,"v":-140},{"k":"b18","t":16,"v":-160},{"k":"b18","t":18,"v":-162},{"k":"b18","t":20,"v":-150},{"k":"b18","t":22,"v":-145},{"k":"b18","t":24,"v":-140},{"k":"b18","t":26,"v":-125},{"k":"b18","t":28,"v":-105},{"k":"b18","t":30,"v":-85},{"k":"b18","t":32,"v":-65},{"k":"b18","t":34,"v":-50},{"k":"b18","t":36,"v":-42},{"k":"b18","t":39,"v":-37},{"k":"b18","t":42,"v":-40},{"k":"b18","t":46,"v":-48},{"k":"b18","t":50,"v":-58},{"k":"b18","t":55,"v":-70},{"k":"b18","t":60,"v":-82},{"k":"b18","t":65,"v":-92},{"k":"b18","t":70,"v":-100},{"k":"b18","t":75,"v":-106},{"k":"b18","t":80,"v":-111},
{"k":"b19","t":0,"v":155},{"k":"b19","t":2,"v":130},{"k":"b19","t":4,"v":90},{"k":"b19","t":6,"v":40},{"k":"b19","t":8,"v":-20},{"k":"b19","t":10,"v":-70},{"k":"b19","t":12,"v":-100},{"k":"b19","t":14,"v":-115},{"k":"b19","t":16,"v":-120},{"k":"b19","t":18,"v":-115},{"k":"b19","t":20,"v":-110},{"k":"b19","t":22,"v":-105},{"k":"b19","t":24,"v":-95},{"k":"b19","t":26,"v":-80},{"k":"b19","t":28,"v":-65},{"k":"b19","t":30,"v":-50},{"k":"b19","t":32,"v":-42},{"k":"b19","t":35,"v":-40},{"k":"b19","t":38,"v":-40},{"k":"b19","t":42,"v":-44},{"k":"b19","t":46,"v":-52},{"k":"b19","t":50,"v":-62},{"k":"b19","t":55,"v":-74},{"k":"b19","t":60,"v":-86},{"k":"b19","t":65,"v":-95},{"k":"b19","t":70,"v":-102},{"k":"b19","t":75,"v":-108},{"k":"b19","t":80,"v":-112},
{"k":"b20","t":0,"v":-150},{"k":"b20","t":1.5,"v":-162},{"k":"b20","t":3,"v":-150},{"k":"b20","t":4.5,"v":-120},{"k":"b20","t":6,"v":-110},{"k":"b20","t":8,"v":-120},{"k":"b20","t":10,"v":-140},{"k":"b20","t":12,"v":-160},{"k":"b20","t":14,"v":-170},{"k":"b20","t":16,"v":-160},{"k":"b20","t":18,"v":-140},{"k":"b20","t":20,"v":-130},{"k":"b20","t":22,"v":-125},{"k":"b20","t":25,"v":-110},{"k":"b20","t":28,"v":-85},{"k":"b20","t":31,"v":-60},{"k":"b20","t":34,"v":-45},{"k":"b20","t":37,"v":-38},{"k":"b20","t":40,"v":-38},{"k":"b20","t":45,"v":-47},{"k":"b20","t":50,"v":-59},{"k":"b20","t":55,"v":-71},{"k":"b20","t":60,"v":-83},{"k":"b20","t":65,"v":-94},{"k":"b20","t":70,"v":-103},{"k":"b20","t":75,"v":-112},{"k":"b20","t":80,"v":-121}
]
},
"hconcat": [
 {
  "title": {"text": "(a) Fully active group", "dx": -6},
  "width": 342, "height": 270,
  "layer": [
   {
    "data": {"name": "agentsA"},
    "mark": {"type": "line", "strokeDash": [1, 1.5], "strokeWidth": 1, "opacity": 0.85, "clip": true},
    "encoding": {
     "x": {"field": "t", "type": "quantitative", "scale": {"domain": [0, 80], "nice": false}, "axis": {"values": [0,10,20,30,40,50,60,70,80], "title": "Time (s)", "labelPadding": 11, "titlePadding": 4, "labelFlush": false}},
     "y": {"field": "v", "type": "quantitative", "scale": {"domain": [-200, 200], "nice": false}, "axis": {"values": [-200,-150,-100,-50,0,50,100,150,200], "title": "Heading angle (deg)", "labelPadding": 8, "titlePadding": 4}},
     "color": {"field": "k", "type": "nominal", "legend": null, "scale": {
      "domain": ["a1","a2","a3","a4","a5","a6","a7","a8","a9","a10","a11","a12","a13","a14","a15","a16","a17","a18","a19","a20"],
      "range": ["#7E2F8E","#A2142F","#D95319","#77AC30","#4DBEEE","#EDB120","#D95319","#7E2F8E","#7E2F8E","#D95319","#4DBEEE","#77AC30","#A2142F","#EDB120","#0072BD","#A2142F","#7E2F8E","#4DBEEE","#77AC30","#7E2F8E"]}}
    }
   },
   {
    "data": {"name": "centralA"},
    "mark": {"type": "line", "strokeWidth": 2, "clip": true},
    "encoding": {
     "x": {"field": "t", "type": "quantitative", "axis": {"orient": "top", "values": [0,10,20,30,40,50,60,70,80], "labels": false, "title": null}},
     "y": {"field": "v", "type": "quantitative", "axis": {"orient": "right", "values": [-200,-150,-100,-50,0,50,100,150,200], "labels": false, "title": null}},
     "stroke": {"datum": "Central agent", "type": "nominal", "scale": {"range": ["#0072BD"]}}
    }
   }
  ],
  "resolve": {"axis": {"x": "independent", "y": "independent"}}
 },
 {
  "title": {"text": "(b) Optimized lazy group", "dx": -10},
  "width": 342, "height": 270,
  "layer": [
   {
    "data": {"name": "agentsB"},
    "mark": {"type": "line", "strokeDash": [1, 1.5], "strokeWidth": 1, "opacity": 0.85, "clip": true},
    "encoding": {
     "x": {"field": "t", "type": "quantitative", "scale": {"domain": [0, 80], "nice": false}, "axis": {"values": [0,10,20,30,40,50,60,70,80], "title": "Time (s)", "labelPadding": 11, "titlePadding": 4, "labelFlush": false}},
     "y": {"field": "v", "type": "quantitative", "scale": {"domain": [-200, 200], "nice": false}, "axis": {"values": [-200,-150,-100,-50,0,50,100,150,200], "title": "Heading angle (deg)", "labelPadding": 8, "titlePadding": 4}},
     "color": {"field": "k", "type": "nominal", "legend": null, "scale": {
      "domain": ["b1","b2","b3","b4","b5","b6","b7","b8","b9","b10","b11","b12","b13","b14","b15","b16","b17","b18","b19","b20"],
      "range": ["#A2142F","#D95319","#77AC30","#EDB120","#77AC30","#4DBEEE","#EDB120","#A2142F","#7E2F8E","#7E2F8E","#4DBEEE","#4DBEEE","#4DBEEE","#EDB120","#7E2F8E","#D95319","#A2142F","#77AC30","#0072BD","#D95319"]}}
    }
   },
   {
    "data": {"name": "centralB"},
    "mark": {"type": "line", "strokeWidth": 2, "clip": true},
    "encoding": {
     "x": {"field": "t", "type": "quantitative", "axis": {"orient": "top", "values": [0,10,20,30,40,50,60,70,80], "labels": false, "title": null}},
     "y": {"field": "v", "type": "quantitative", "axis": {"orient": "right", "values": [-200,-150,-100,-50,0,50,100,150,200], "labels": false, "title": null}},
     "stroke": {"datum": "Central agent", "type": "nominal", "scale": {"range": ["#0072BD"]}}
    }
   }
  ],
  "resolve": {"axis": {"x": "independent", "y": "independent"}}
 }
]
}
